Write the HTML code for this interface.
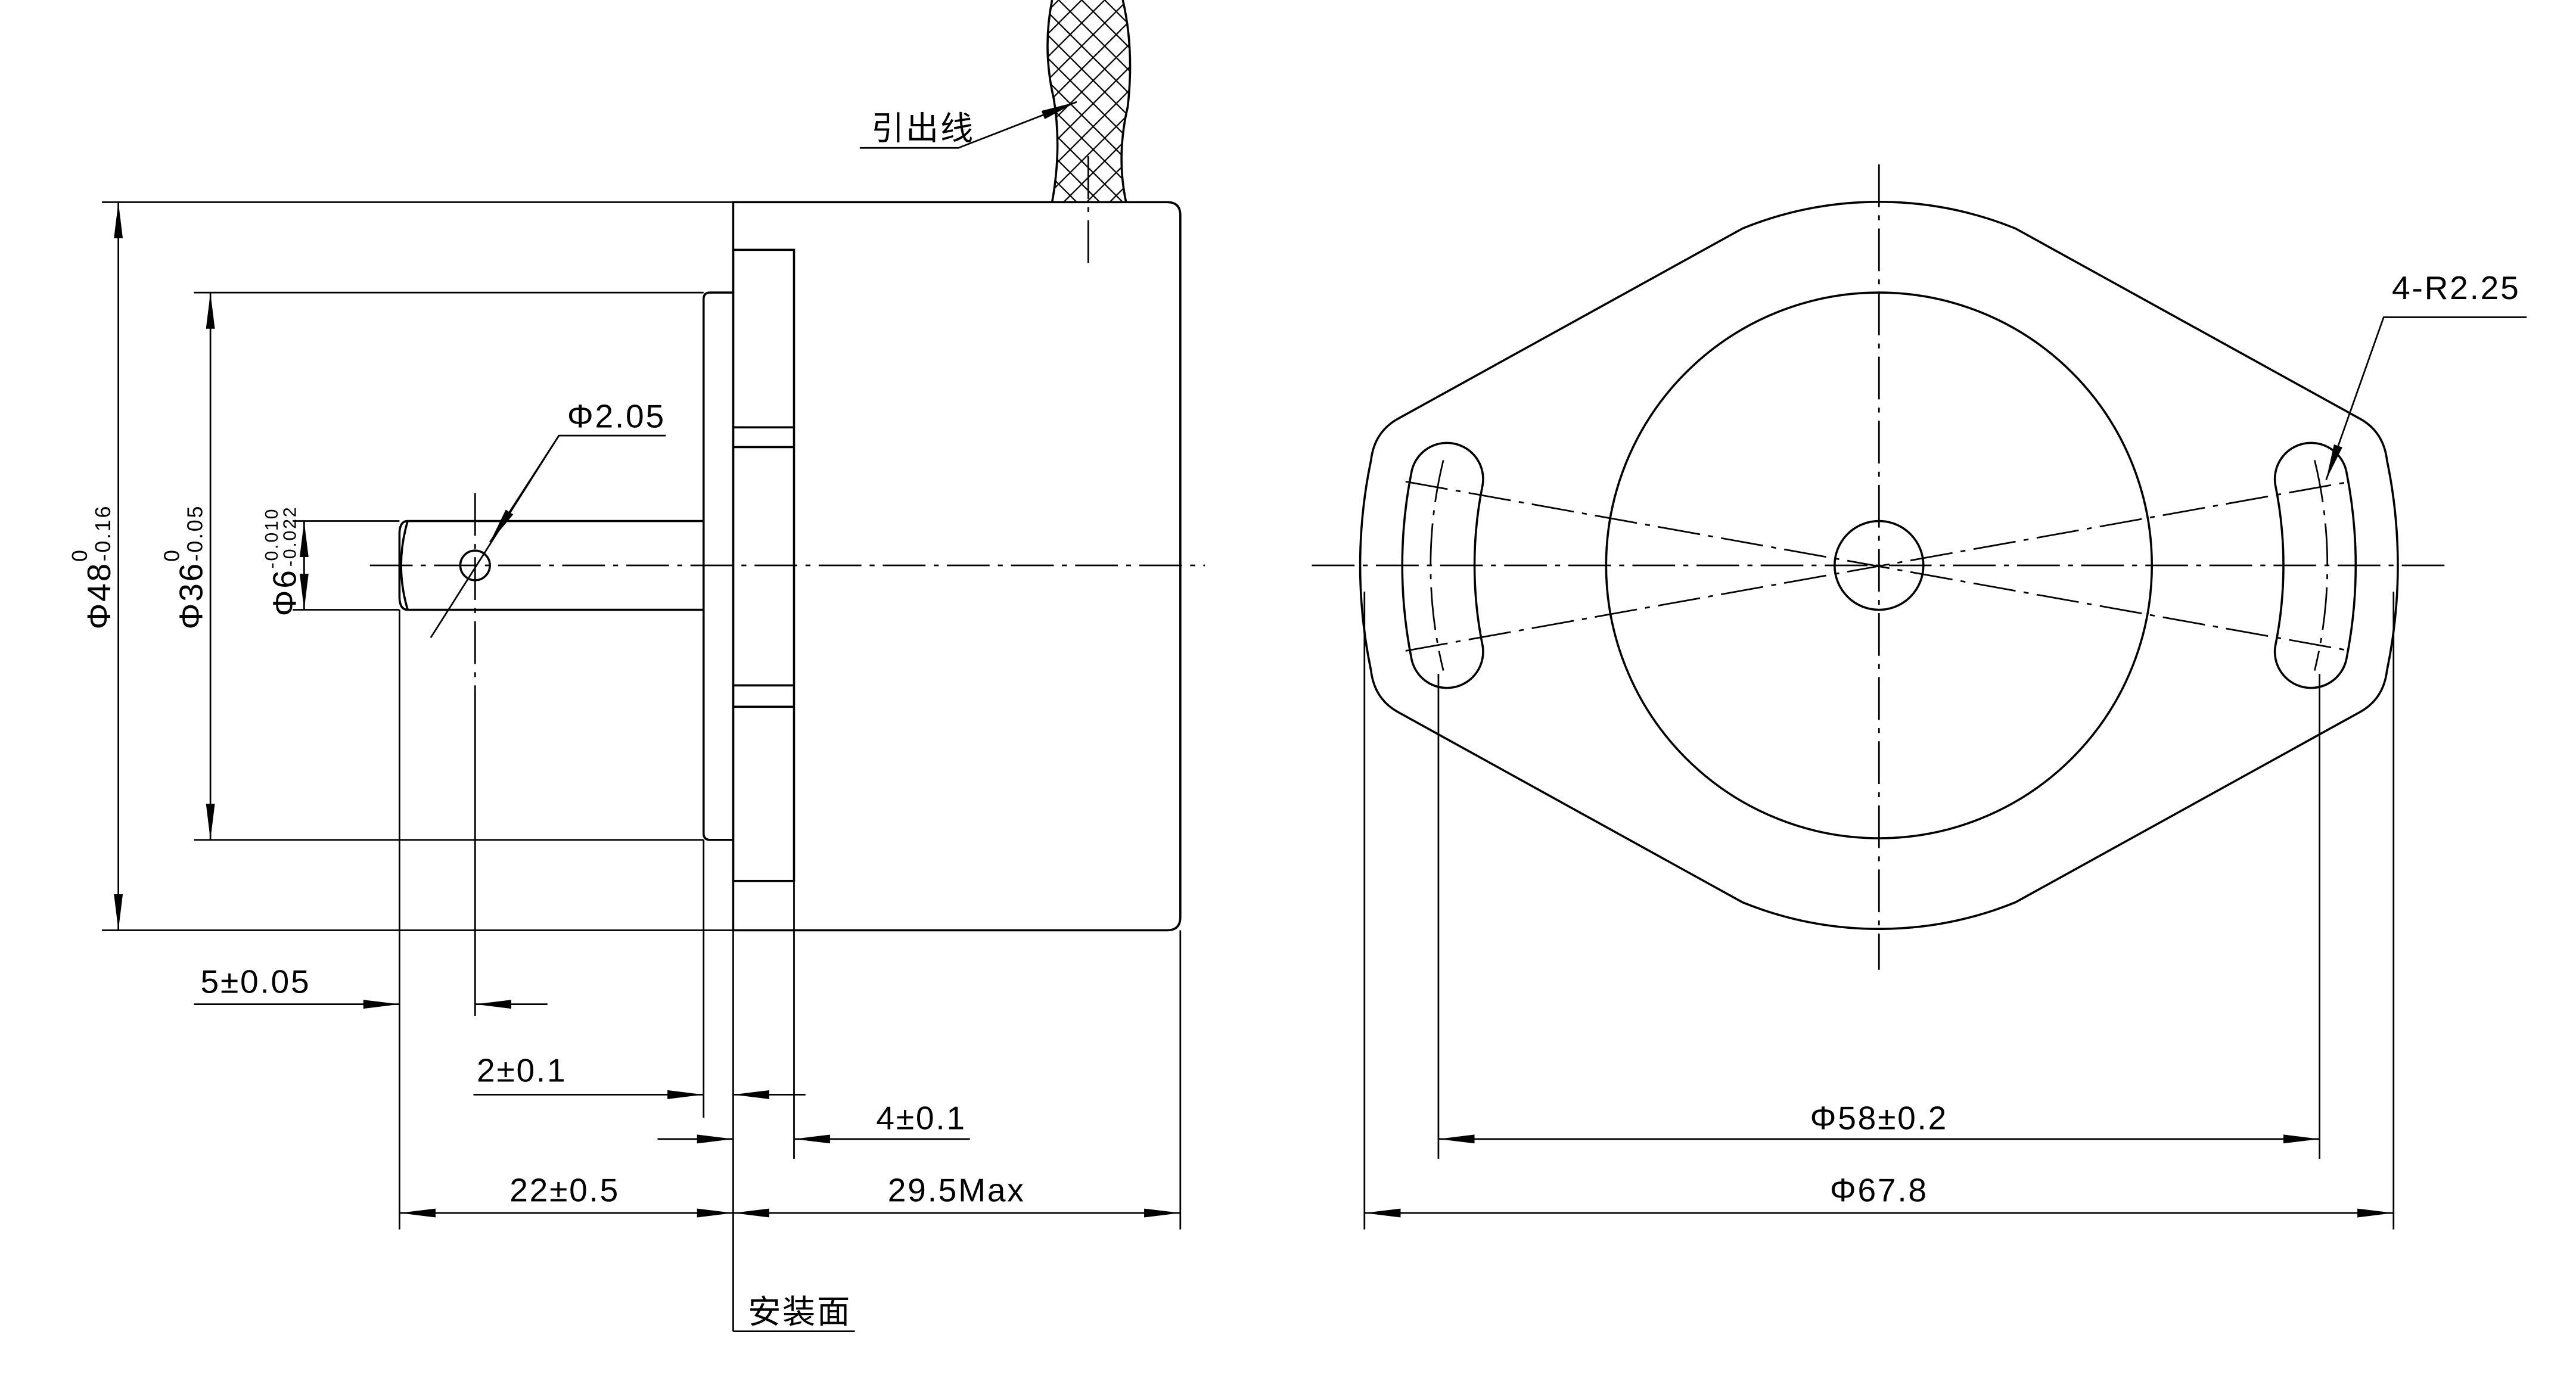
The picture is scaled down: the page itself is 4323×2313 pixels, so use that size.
<!DOCTYPE html>
<html><head><meta charset="utf-8"><style>
html,body{margin:0;padding:0;background:#fff;}
svg{display:block;}
text{font-family:"Liberation Sans","Noto Sans CJK SC",sans-serif;fill:#000;font-size:20px;letter-spacing:1px;}
</style></head><body>
<svg width="4323" height="2313" viewBox="0 0 1567 838.4" preserveAspectRatio="none" xmlns="http://www.w3.org/2000/svg">
<defs>
<marker id="a" markerUnits="userSpaceOnUse" markerWidth="24" markerHeight="8" refX="22" refY="3.5" orient="auto-start-reverse"><path d="M0,0.8 L22,3.5 L0,6.2 Z" fill="#000"/></marker>
<pattern id="hatch" width="14" height="14" patternUnits="userSpaceOnUse"><path d="M0,0 L14,14 M14,0 L0,14" stroke="#000" stroke-width="0.8"/></pattern>
<clipPath id="cab"><path d="M640,0 Q634,30 641,60 Q646,90 640,123 L685,123 Q679,95 686,65 Q690,30 683,0 Z"/></clipPath>
</defs>
<g fill="none" stroke="#000" stroke-width="1.3">
<rect x="620" y="0" width="80" height="123" fill="url(#hatch)" stroke="none" clip-path="url(#cab)"/>
<path d="M640,0 Q634,30 641,60 Q646,90 640,123"/>
<path d="M683,0 Q690,30 686,65 Q679,95 685,123"/>
<path d="M446,123 L710,123 Q718,123 718,131 L718,558 Q718,566 710,566 L446,566 Z"/>
<rect x="446" y="152" width="37" height="384"/>
<path d="M446,260 H483 M446,272 H483 M446,417 H483 M446,430 H483"/>
<path d="M446,178 L432,178 Q428,178 428,182 L428,507 Q428,511 432,511 L446,511"/>
<path d="M428,317 L248,317 Q243,317 243,325 L243,363 Q243,371 248,371 L428,371"/>
<path d="M248,317 Q240,344 248,371"/>
<circle cx="289" cy="344" r="9"/>
</g>
<g fill="none" stroke="#000" stroke-width="1" stroke-dasharray="26,5,3,5">
<path d="M225,344 H733"/>
<path d="M289,300 V420"/>
<path d="M662,95 V165"/>
<path d="M798,344 H1490"/>
<path d="M1143,100 V590"/>
<path d="M855,293 L1430,396 M855,396 L1430,293"/>
<path d="M878,280 A268,268 0 0 0 878,408 M1408,280 A268,268 0 0 1 1408,408"/>
</g>
<g fill="none" stroke="#000" stroke-width="1">
<path d="M62,123 H446 M62,566 H446 M118,178 H428 M118,511 H428 M178,317 H243 M178,371 H243"/>
<path d="M243,371 V748 M289,420 V618 M428,511 V680 M446,566 V810 M483,536 V705 M718,566 V748"/>
<path d="M446,810 H520"/>
<path d="M72,123 V566" marker-start="url(#a)" marker-end="url(#a)"/>
<path d="M128,178 V511" marker-start="url(#a)" marker-end="url(#a)"/>
<path d="M185,317 V371" marker-start="url(#a)" marker-end="url(#a)"/>
<path d="M118,611 H243" marker-end="url(#a)"/>
<path d="M333,611 H289" marker-end="url(#a)"/>
<path d="M288,666 H428" marker-end="url(#a)"/>
<path d="M490,666 H446" marker-end="url(#a)"/>
<path d="M400,693 H446" marker-end="url(#a)"/>
<path d="M590,693 H483" marker-end="url(#a)"/>
<path d="M243,738 H446" marker-start="url(#a)" marker-end="url(#a)"/>
<path d="M446,738 H718" marker-start="url(#a)" marker-end="url(#a)"/>
<path d="M405,265 H340 L262,388"/>
<path d="M340,265 L298,330" marker-end="url(#a)"/>
<path d="M523,90 H583 L655,62" marker-end="url(#a)"/>
<path d="M875,410 V705 M1411,410 V705 M830,360 V748 M1456,360 V748"/>
<path d="M875,693 H1411" marker-start="url(#a)" marker-end="url(#a)"/>
<path d="M830,738 H1456" marker-start="url(#a)" marker-end="url(#a)"/>
<path d="M1537,193 H1450 L1415,292" marker-end="url(#a)"/>
</g>
<g fill="none" stroke="#000" stroke-width="1.3">
<path d="M850,255 L1060,139 A221,221 0 0 1 1226,139 L1436,255 Q1450,263 1452,280 A313,313 0 0 1 1452,408 Q1450,425 1436,433 L1226,549 A221,221 0 0 1 1060,549 L850,433 Q836,425 834,408 A313,313 0 0 1 834,280 Q836,263 850,255 Z"/>
<circle cx="1143" cy="344" r="166"/>
<circle cx="1143" cy="344" r="27"/>
<path d="M858.8,286.3 A290,290 0 0 0 858.8,401.7 A22,22 0 0 0 901.9,393 A246,246 0 0 1 901.9,295 A22,22 0 0 0 858.8,286.3 Z"/>
<path d="M1427.2,286.3 A290,290 0 0 1 1427.2,401.7 A22,22 0 0 1 1384.1,393 A246,246 0 0 0 1384.1,295 A22,22 0 0 1 1427.2,286.3 Z"/>
</g>
<text x="530" y="85">引出线</text>
<text x="345" y="260">Φ2.05</text>
<text x="122" y="604">5±0.05</text>
<text x="290" y="658">2±0.1</text>
<text x="533" y="687">4±0.1</text>
<text x="310" y="731">22±0.5</text>
<text x="540" y="731">29.5Max</text>
<text x="455" y="805">安装面</text>
<text x="1143" y="687" text-anchor="middle">Φ58±0.2</text>
<text x="1143" y="731" text-anchor="middle">Φ67.8</text>
<text x="1455" y="182">4-R2.25</text>
<text transform="translate(67,383) rotate(-90)">Φ48<tspan font-size="13" dy="-14" dx="0">0</tspan><tspan font-size="13" dy="14" dx="-8">-0.16</tspan></text>
<text transform="translate(123,383) rotate(-90)">Φ36<tspan font-size="13" dy="-14">0</tspan><tspan font-size="13" dy="14" dx="-8">-0.05</tspan></text>
<text transform="translate(180,375) rotate(-90)">Φ6<tspan font-size="11" dy="-11">-0.010</tspan><tspan font-size="11" dy="11" dx="-36">-0.022</tspan></text>
</svg>
</body></html>
